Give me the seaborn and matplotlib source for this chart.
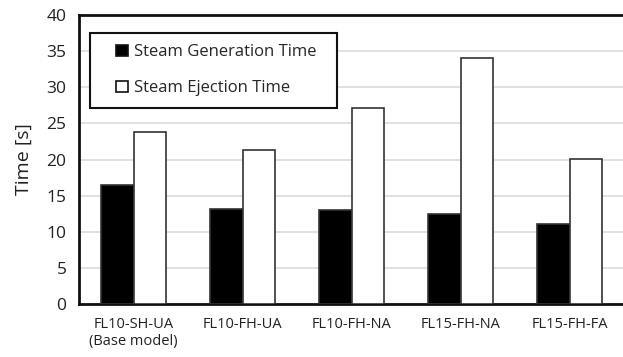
import matplotlib
matplotlib.use("Agg")
import matplotlib.pyplot as plt
from matplotlib.patches import Rectangle
import seaborn as sns
import pandas as pd

categories = ["FL10-SH-UA\n(Base model)", "FL10-FH-UA", "FL10-FH-NA", "FL15-FH-NA", "FL15-FH-FA"]
generation_time = [16.5, 13.1, 13.0, 12.5, 11.1]
ejection_time = [23.8, 21.3, 27.1, 34.0, 20.1]
series_names = ["Steam Generation Time", "Steam Ejection Time"]
y_ticks = [0, 5, 10, 15, 20, 25, 30, 35, 40]

df = pd.DataFrame({
    "Case": categories * 2,
    "Series": [series_names[0]] * len(categories) + [series_names[1]] * len(categories),
    "Time": generation_time + ejection_time,
})

sns.set_theme(style="white")
plt.rcParams["font.family"] = ["Open Sans", "DejaVu Sans"]

fig = plt.figure(figsize=(6.23, 3.57), dpi=100)
ax = fig.add_axes([79/623, (357-304)/357, (624-79)/623, (304-15)/357])

sns.barplot(data=df, x="Case", y="Time", hue="Series", order=categories,
            hue_order=series_names, palette=["#000000", "#ffffff"],
            width=0.59, edgecolor="#333333", linewidth=1.2, ax=ax, zorder=3)

ax.set_ylim(0, 40)
ax.set_xlim(-0.5, 4.5)
ax.set_yticks(y_ticks)
ax.yaxis.grid(True, color="#dcdcdc", linewidth=1.2, zorder=0)
ax.set_axisbelow(True)
for s in ["left", "top", "bottom"]:
    ax.spines[s].set_color("#111111")
    ax.spines[s].set_linewidth(2)
ax.spines["right"].set_visible(False)
ax.tick_params(axis="y", labelsize=12.5, length=0, pad=9, colors="#222222")
ax.tick_params(axis="x", labelsize=10.5, length=0, pad=9, colors="#222222")
ax.set_xlabel("")
ax.set_ylabel("Time [s]", fontsize=14, labelpad=10, color="#222222")

# legend box frame
box = Rectangle((0.0202, 0.678), 0.473 - 0.0202, 0.938 - 0.678,
                transform=ax.transAxes, facecolor="white", edgecolor="#111111",
                linewidth=1.5, zorder=4)
ax.add_patch(box)

leg = ax.legend(loc="center left", bbox_to_anchor=(0.068, 0.808), fontsize=12,
                frameon=False, handlelength=0.7, handleheight=0.7,
                handletextpad=0.35, labelspacing=1.2, borderpad=0,
                borderaxespad=0, title=None)
leg.set_zorder(5)
for h in leg.legend_handles:
    h.set_edgecolor("#111111")

fig.savefig("out.png", dpi=100)
